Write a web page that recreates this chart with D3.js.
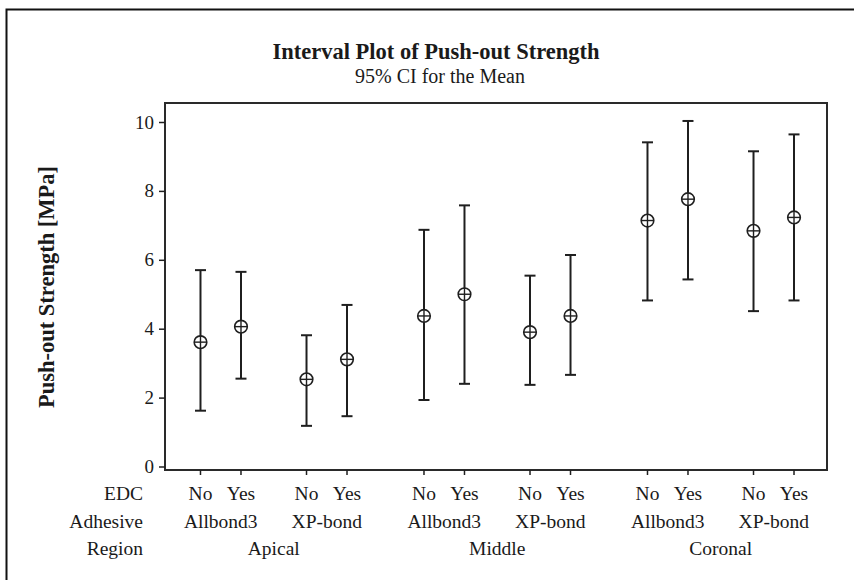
<!DOCTYPE html>
<html>
<head>
<meta charset="utf-8">
<script src="https://cdn.jsdelivr.net/npm/d3@7"></script>
<style>
  html, body { margin: 0; padding: 0; background: #fff; }
  svg { display: block; }
  text { font-family: "Liberation Serif", "Times New Roman", serif; fill: #1a1a1a; }
</style>
</head>
<body>
<svg id="chart" width="854" height="580"></svg>
<script>
// Factor levels (outer to inner)
const regions = ["Apical", "Middle", "Coronal"];
const adhesives = ["Allbond3", "XP-bond"];
const edcLevels = ["No", "Yes"];

// 95% CI for the mean push-out strength [MPa], ordered Region > Adhesive > EDC
const means = [3.61, 4.06, 2.53, 3.11, 4.37, 5.00, 3.90, 4.37, 7.14, 7.76, 6.84, 7.23];
const lower = [1.62, 2.55, 1.18, 1.46, 1.93, 2.40, 2.37, 2.66, 4.82, 5.43, 4.51, 4.82];
const upper = [5.70, 5.65, 3.81, 4.69, 6.87, 7.58, 5.54, 6.14, 9.41, 10.03, 9.15, 9.64];

const yTicks = [0, 2, 4, 6, 8, 10];

const rows = [];
regions.forEach(r => adhesives.forEach(a => edcLevels.forEach(e => rows.push({ region: r, adhesive: a, edc: e }))));
rows.forEach((d, i) => { d.mean = means[i]; d.lo = lower[i]; d.hi = upper[i]; });

const svg = d3.select("#chart");
const ink = "#1f1f1f";
const serif = "'Liberation Serif', 'Times New Roman', serif";

// Figure frame (left and top edges)
svg.append("path")
  .attr("d", "M6.5,580 V9.5 H854")
  .attr("fill", "none").attr("stroke", "#111").attr("stroke-width", 2);

const frame = { left: 165, right: 827, top: 103, bottom: 470 };

// Scales
const y = d3.scaleLinear().domain([0, 10]).range([466.5, 122]);
const xRegion = d3.scaleBand().domain(regions).range([162, 832.5]);
const xAdh = d3.scalePoint().domain(adhesives).range([0, xRegion.bandwidth()]).padding(0.554);
const xEdc = d3.scalePoint().domain(edcLevels).range([-20.25, 20.25]);
const xPos = d => xRegion(d.region) + xAdh(d.adhesive) + xEdc(d.edc);

// Plot frame
svg.append("rect")
  .attr("x", frame.left).attr("y", frame.top)
  .attr("width", frame.right - frame.left).attr("height", frame.bottom - frame.top)
  .attr("fill", "none").attr("stroke", "#2a2a2a").attr("stroke-width", 2);

// Y axis
const yAxis = d3.axisLeft(y).tickValues(yTicks).tickSize(6).tickPadding(5).tickSizeOuter(0);
const gy = svg.append("g").attr("transform", `translate(${frame.left},0)`).call(yAxis);
gy.attr("font-family", null);
gy.select(".domain").remove();
gy.selectAll("line").attr("stroke", ink).attr("stroke-width", 1.5);
gy.selectAll("text")
  .style("font-family", serif).style("font-size", "19px")
  .attr("fill", ink);

// X ticks
svg.append("g").selectAll("line").data(rows).join("line")
  .attr("x1", xPos).attr("x2", xPos)
  .attr("y1", frame.bottom).attr("y2", frame.bottom + 5)
  .attr("stroke", ink).attr("stroke-width", 1.5);

// Category labels
const lblSize = "19.5px";
const rowLabels = [["EDC", 500], ["Adhesive", 528], ["Region", 555]];
svg.append("g").selectAll("text").data(rowLabels).join("text")
  .attr("x", 143).attr("y", d => d[1])
  .attr("text-anchor", "end").style("font-size", lblSize)
  .text(d => d[0]);

svg.append("g").selectAll("text").data(rows).join("text")
  .attr("x", xPos).attr("y", 500)
  .attr("text-anchor", "middle").style("font-size", lblSize)
  .text(d => d.edc);

const adhGroups = [];
regions.forEach(r => adhesives.forEach(a => adhGroups.push({ region: r, adhesive: a })));
svg.append("g").selectAll("text").data(adhGroups).join("text")
  .attr("x", d => xRegion(d.region) + xAdh(d.adhesive)).attr("y", 528)
  .attr("text-anchor", "middle").style("font-size", lblSize)
  .text(d => d.adhesive);

svg.append("g").selectAll("text").data(regions).join("text")
  .attr("x", d => xRegion(d) + xRegion.bandwidth() / 2).attr("y", 555)
  .attr("text-anchor", "middle").style("font-size", lblSize)
  .text(d => d);

// Interval bars
const cap = 5.5;
const bars = svg.append("g").selectAll("g").data(rows).join("g")
  .attr("stroke", ink).attr("stroke-width", 2).attr("fill", "none");
bars.append("line")
  .attr("x1", xPos).attr("x2", xPos)
  .attr("y1", d => y(d.lo)).attr("y2", d => y(d.hi));
bars.append("line")
  .attr("x1", d => xPos(d) - cap).attr("x2", d => xPos(d) + cap)
  .attr("y1", d => y(d.hi)).attr("y2", d => y(d.hi));
bars.append("line")
  .attr("x1", d => xPos(d) - cap).attr("x2", d => xPos(d) + cap)
  .attr("y1", d => y(d.lo)).attr("y2", d => y(d.lo));

// Mean symbols: circle with cross
const r = 6.3;
bars.append("circle")
  .attr("cx", xPos).attr("cy", d => y(d.mean)).attr("r", r)
  .attr("fill", "#fff").attr("stroke-width", 1.6);
bars.append("line")
  .attr("x1", d => xPos(d) - r).attr("x2", d => xPos(d) + r)
  .attr("y1", d => y(d.mean)).attr("y2", d => y(d.mean)).attr("stroke-width", 1.4);
bars.append("line")
  .attr("x1", xPos).attr("x2", xPos)
  .attr("y1", d => y(d.mean) - r).attr("y2", d => y(d.mean) + r).attr("stroke-width", 1.4);

// Titles
svg.append("text")
  .attr("x", 436).attr("y", 59)
  .attr("text-anchor", "middle")
  .style("font-size", "22.5px").style("font-weight", "bold")
  .text("Interval Plot of Push-out Strength");
svg.append("text")
  .attr("x", 440).attr("y", 83)
  .attr("text-anchor", "middle")
  .style("font-size", "20px")
  .text("95% CI for the Mean");

// Y axis title
svg.append("text")
  .attr("transform", "translate(54,287) rotate(-90)")
  .attr("text-anchor", "middle")
  .style("font-size", "22.5px").style("font-weight", "bold")
  .text("Push-out Strength [MPa]");
</script>
</body>
</html>
